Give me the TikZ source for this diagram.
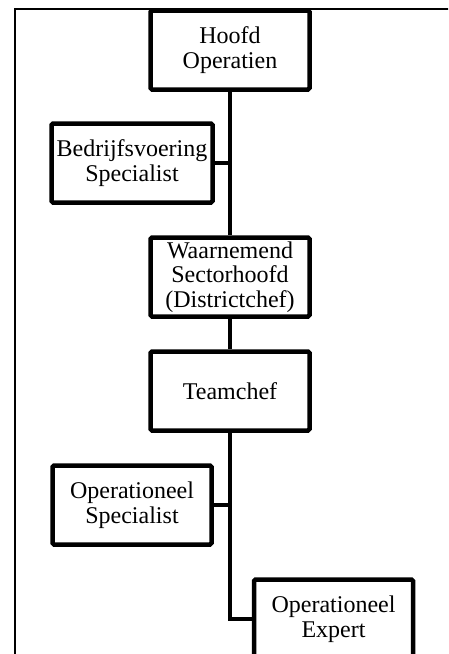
\documentclass[tikz,border=0pt]{standalone}
\usepackage{fontspec}
\setmainfont{Liberation Serif}
\usetikzlibrary{positioning}

\tikzset{
  rolebox/.style={draw=black, line width=4.5pt, rounded corners=1.5pt, fill=white,
    align=center, minimum width=159pt, minimum height=79pt, inner sep=2pt,
    font=\fontsize{24}{24.5}\selectfont},
  link/.style={line width=4pt},
}

\begin{document}
\begin{tikzpicture}[x=1pt, y=-1pt]
  \clip (0,0) rectangle (448,654);
  % frame
  \draw[line width=1.5pt] (15,9) rectangle (470,700);

  % boxes
  \node[rolebox] (hoofd) at (230,50) {Hoofd\\Operatien};
  \node[rolebox, minimum width=161pt] (bedrijf) at (132,163) {Bedrijfsvoering\\Specialist};
  \node[rolebox] (waarn) at (230,277) {Waarnemend\\Sectorhoofd\\(Districtchef)};
  \node[rolebox] (team) at (230,391) {Teamchef};
  \node[rolebox] (opspec) at (132,505) {Operationeel\\Specialist};
  \node[rolebox] (opexp) at (333.5,619) {Operationeel\\Expert};

  % connectors
  \draw[link] (hoofd.south) -- (waarn.north);
  \draw[link] (waarn.south) -- (team.north);
  \draw[link] (bedrijf.east) -- (bedrijf.east -| hoofd.south);
  \draw[link] (opspec.east) -- (opspec.east -| team.south);
  \draw[link] (team.south) |- (opexp.west);
\end{tikzpicture}
\end{document}
